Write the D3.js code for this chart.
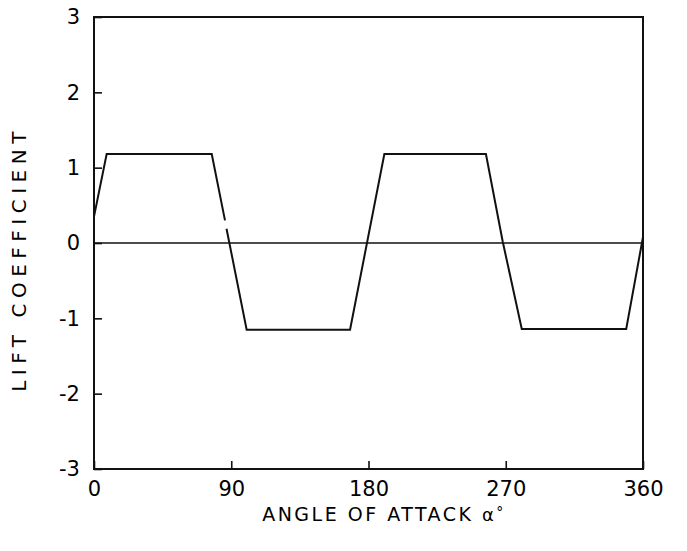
<!DOCTYPE html>
<html>
<head>
<meta charset="utf-8">
<script src="https://cdn.jsdelivr.net/npm/d3@7"></script>
<style>
  html, body { margin: 0; padding: 0; background: #fff; }
  svg { display: block; }
  text { font-family: "DejaVu Sans", sans-serif; font-weight: 400; fill: #000; }
</style>
</head>
<body>
<svg id="chart" width="687" height="551"></svg>
<script>
// Lift coefficient vs. angle of attack (degrees); null marks a break in the trace
const alphaDeg = [0, 8.3, 77.2, 85.9, null, 86.9, 100.1, 167.9, 190.4, 257.0, 268.0, 280.5, 349.0, 360];
const liftCoef = [0.35, 1.18, 1.18, 0.30, null, 0.19, -1.15, -1.15, 1.18, 1.18, 0.02, -1.14, -1.14, 0.08];
const xTicks = [0, 90, 180, 270, 360];
const yTicks = [-3, -2, -1, 0, 1, 2, 3];
const zeroLine = [0];

const svg = d3.select("#chart");
const margin = { left: 94, right: 44, top: 17, bottom: 82 };
const W = 687, H = 551;
const x = d3.scaleLinear().domain([0, 360]).range([margin.left, W - margin.right]);
const y = d3.scaleLinear().domain([-3, 3]).range([H - margin.bottom, margin.top]);

// frame
svg.append("rect")
  .attr("x", x(0)).attr("y", y(3))
  .attr("width", x(360) - x(0)).attr("height", y(-3) - y(3))
  .attr("fill", "none").attr("stroke", "#111").attr("stroke-width", 2);

// axes with inward ticks
const xAxis = svg.append("g")
  .attr("transform", `translate(0,${y(-3)})`)
  .call(d3.axisBottom(x).tickValues(xTicks).tickSizeInner(-8).tickSizeOuter(0).tickPadding(12));
const yAxis = svg.append("g")
  .attr("transform", `translate(${x(0)},0)`)
  .call(d3.axisLeft(y).tickValues(yTicks).tickSizeInner(-8).tickSizeOuter(0).tickPadding(14)
    .tickFormat(d3.format("d")));

[xAxis, yAxis].forEach(g => {
  g.select(".domain").remove();
  g.selectAll(".tick line").attr("stroke", "#111").attr("stroke-width", 1.6);
  g.selectAll(".tick text").style("font-size", "21px").attr("fill", "#000");
});
xAxis.selectAll(".tick text").attr("dy", "0.71em");
yAxis.selectAll(".tick text").text(d => d < 0 ? "-" + Math.abs(d) : d);

// zero reference line
svg.selectAll(".zero").data(zeroLine).enter().append("line")
  .attr("class", "zero")
  .attr("x1", x(0)).attr("x2", x(360))
  .attr("y1", d => y(d)).attr("y2", d => y(d))
  .attr("stroke", "#111").attr("stroke-width", 1.6);

// lift curve
const pts = alphaDeg.map((a, i) => ({ a, c: liftCoef[i] }));
const line = d3.line()
  .defined(d => d.a !== null && d.c !== null)
  .x(d => x(d.a)).y(d => y(d.c));
svg.append("path")
  .datum(pts)
  .attr("d", line)
  .attr("fill", "none").attr("stroke", "#111").attr("stroke-width", 2)
  .attr("stroke-linejoin", "miter");

// axis titles
const xt = svg.append("text")
  .attr("x", 384).attr("y", 521)
  .attr("text-anchor", "middle")
  .style("font-size", "19px")
  .style("letter-spacing", "2.5px");
xt.append("tspan").text("ANGLE OF ATTACK ");
xt.append("tspan").text("α").style("font-size", "18px");
xt.append("tspan").text("°").style("font-size", "14px").attr("dy", "-4");

svg.append("text")
  .attr("transform", `translate(26,${(y(3) + y(-3)) / 2 + 16}) rotate(-90)`)
  .attr("text-anchor", "middle")
  .style("font-size", "20px")
  .style("letter-spacing", "5.5px")
  .text("LIFT COEFFICIENT");
</script>
</body>
</html>
